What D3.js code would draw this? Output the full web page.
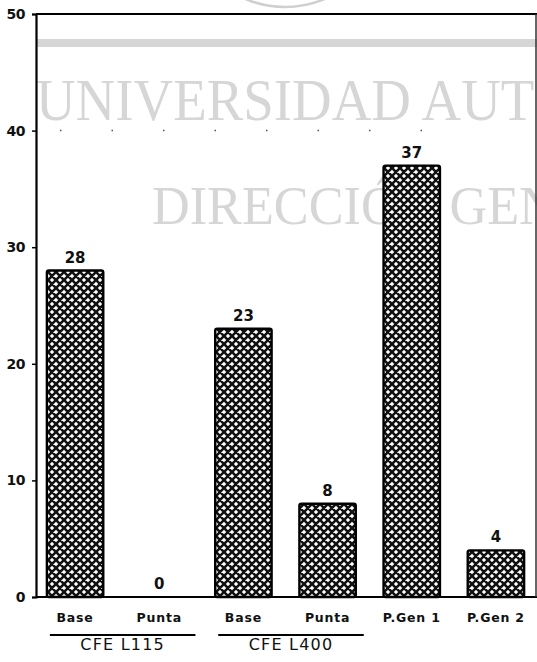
<!DOCTYPE html>
<html>
<head>
<meta charset="utf-8">
<script src="https://cdn.jsdelivr.net/npm/d3@7"></script>
<style>
  html, body { margin: 0; padding: 0; background: #fff; }
  svg { display: block; }
</style>
</head>
<body>
<svg id="chart" width="537" height="662"></svg>
<script>
// Bar categories, grouped under the supplier labels
const categories = ["Base", "Punta", "Base", "Punta", "P.Gen 1", "P.Gen 2"];
const values = [28, 0, 23, 8, 37, 4];
const groups = [
  { label: "CFE L115", from: 0, to: 1 },
  { label: "CFE L400", from: 2, to: 3 }
];
const yTicks = [0, 10, 20, 30, 40, 50];

const svg = d3.select("#chart");
const W = 537, H = 662;

const x = d3.scaleBand()
  .domain(d3.range(categories.length))
  .range([33, 538])
  .paddingInner(0.33)
  .paddingOuter(0.165);

const y = d3.scaleLinear().domain([0, 50]).range([597, 14]);

// Cross-hatch fill used by every bar
const defs = svg.append("defs");
const pat = defs.append("pattern")
  .attr("id", "hatch")
  .attr("patternUnits", "userSpaceOnUse")
  .attr("width", 8).attr("height", 8);
pat.append("rect").attr("width", 8).attr("height", 8).attr("fill", "#fff");
pat.append("path")
  .attr("d", "M-1,-1 L9,9 M-1,9 L9,-1 M3,-5 L13,5 M-5,3 L5,13 M-5,5 L5,-5 M3,13 L13,3")
  .attr("stroke", "#111").attr("stroke-width", 2.6);

// Background watermark: seal arc, band and institution name
const wm = svg.append("g").attr("fill", "#d6d6d6");
svg.append("circle")
  .attr("cx", 285).attr("cy", -95).attr("r", 102)
  .attr("fill", "none").attr("stroke", "#cfcfcf").attr("stroke-width", 2.5);
wm.append("rect").attr("x", 36).attr("y", 39).attr("width", W - 36).attr("height", 8);
wm.append("text")
  .attr("transform", "translate(36,120) scale(0.93,1)")
  .attr("font-family", "'Liberation Serif', 'DejaVu Serif', serif")
  .attr("font-size", 59)
  .text("UNIVERSIDAD AUT");
wm.append("text")
  .attr("transform", "translate(152,224) scale(0.95,1)")
  .attr("font-family", "'Liberation Serif', 'DejaVu Serif', serif")
  .attr("font-size", 55)
  .text("DIRECCIÓN GEN");

// Frame: top rule, baseline, right edge
const frame = svg.append("g").attr("stroke", "#000").attr("fill", "none");
frame.append("line").attr("x1", 36).attr("x2", W).attr("y1", y(50)).attr("y2", y(50)).attr("stroke-width", 2.2);
frame.append("line").attr("x1", 36).attr("x2", W).attr("y1", y(0)).attr("y2", y(0)).attr("stroke-width", 2);
frame.append("line").attr("x1", 536).attr("x2", 536).attr("y1", y(50)).attr("y2", y(0)).attr("stroke", "#333").attr("stroke-width", 1.5);

// Sparse dotted guide at 40
svg.append("line")
  .attr("x1", 60).attr("x2", 470).attr("y1", y(40)).attr("y2", y(40))
  .attr("stroke", "#555").attr("stroke-width", 1.5)
  .attr("stroke-dasharray", "1.5 50");

// Y axis
const yAxis = d3.axisLeft(y).tickValues(yTicks).tickSize(4).tickPadding(7);
const yg = svg.append("g").attr("transform", "translate(36,0)").call(yAxis);
yg.select(".domain").attr("stroke", "#000").attr("stroke-width", 2.2);
yg.selectAll(".tick line").attr("stroke", "#000").attr("stroke-width", 1.5);
yg.selectAll(".tick text")
  .attr("font-family", "'DejaVu Sans', sans-serif")
  .attr("font-weight", "bold").attr("font-size", 14).attr("fill", "#111")
  .attr("letter-spacing", -0.5);

// Bars
svg.append("g").selectAll("rect")
  .data(values.map((v, i) => ({ v, i })).filter(d => d.v > 0))
  .join("rect")
  .attr("x", d => x(d.i))
  .attr("y", d => y(d.v))
  .attr("width", x.bandwidth())
  .attr("height", d => y(0) - y(d.v))
  .attr("rx", 2)
  .attr("fill", "url(#hatch)")
  .attr("stroke", "#000").attr("stroke-width", 2.4);

// Value labels
svg.append("g").selectAll("text")
  .data(values.map((v, i) => ({ v, i })))
  .join("text")
  .attr("x", d => x(d.i) + x.bandwidth() / 2)
  .attr("y", d => y(d.v) - 8)
  .attr("text-anchor", "middle")
  .attr("font-family", "'DejaVu Sans', sans-serif")
  .attr("font-weight", "bold").attr("font-size", 15).attr("fill", "#111")
  .text(d => d.v);

// Category labels
svg.append("g").selectAll("text")
  .data(categories)
  .join("text")
  .attr("x", (d, i) => x(i) + x.bandwidth() / 2)
  .attr("y", 622)
  .attr("text-anchor", "middle")
  .attr("font-family", "'DejaVu Sans', sans-serif")
  .attr("font-weight", "bold").attr("font-size", 12.5).attr("fill", "#111")
  .attr("letter-spacing", 0.8)
  .text(d => d);

// Group brackets and names
const gg = svg.append("g");
groups.forEach(g => {
  const x1 = x(g.from) + 3, x2 = x(g.to) + x.bandwidth() + 8;
  gg.append("line").attr("x1", x1).attr("x2", x2).attr("y1", 635).attr("y2", 635)
    .attr("stroke", "#000").attr("stroke-width", 2);
  gg.append("text")
    .attr("x", (x1 + x2) / 2).attr("y", 650)
    .attr("text-anchor", "middle")
    .attr("font-family", "'DejaVu Sans', sans-serif")
    .attr("font-size", 16).attr("fill", "#111")
    .attr("letter-spacing", 1.2)
    .text(g.label);
});
</script>
</body>
</html>
